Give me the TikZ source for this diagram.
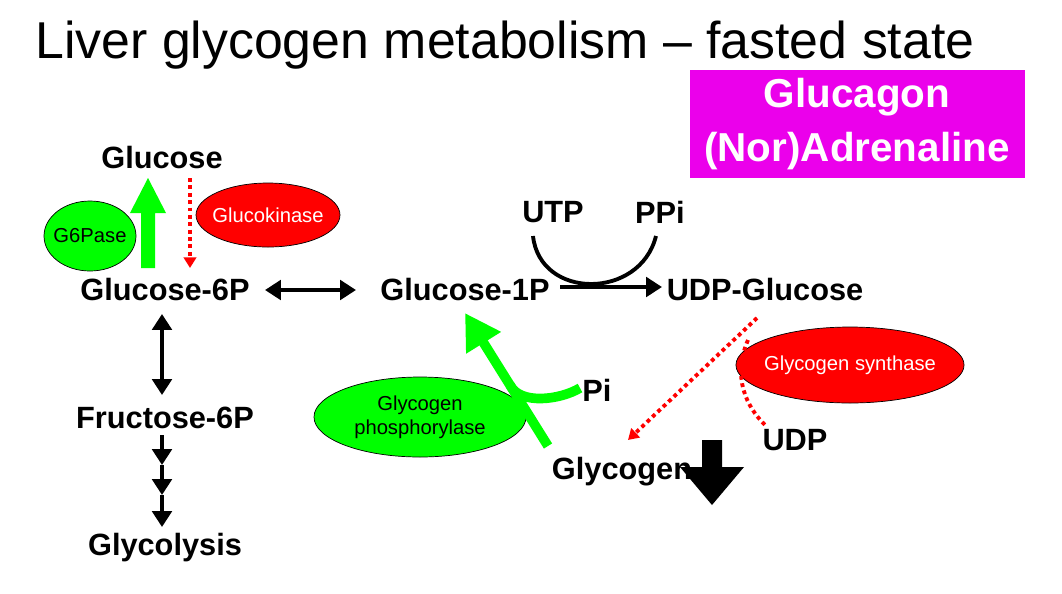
\documentclass[tikz,border=0pt]{standalone}
\usepackage{fontspec}
\setmainfont{Liberation Sans}
\usetikzlibrary{arrows.meta,shapes.geometric}
\definecolor{hmag}{RGB}{235,0,235}
\begin{document}
\begin{tikzpicture}[x=0.02cm,y=-0.02cm,
  lab/.style={font=\fontsize{17.5}{19}\selectfont\bfseries,inner sep=0pt},
  enz/.style={ellipse,draw=black,inner sep=-3pt,font=\fontsize{11.5}{13.5}\selectfont,align=center},
  blk/.style={line width=2.2pt,-{Triangle[length=9pt,width=11pt]}},
  dbl/.style={line width=2.2pt,{Triangle[length=9pt,width=11pt]}-{Triangle[length=9pt,width=11pt]}},
  reddot/.style={red,line width=2.2pt,dotted}]
\useasboundingbox (0,0) rectangle (1062,593);
\node[anchor=west,font=\fontsize{29.5}{32}\selectfont,inner sep=0pt] (title) at (35,45) {Liver glycogen metabolism – fasted state};
\node[fill=hmag,minimum width=335*0.02cm,minimum height=108*0.02cm,align=center,text=white,
  font=\fontsize{23}{31}\selectfont\bfseries] (hormone) at (857,124) {Glucagon\\(Nor)Adrenaline};
\node[lab] (glc) at (162,158) {Glucose};
\node[lab] (g6p) at (165,290) {Glucose-6P};
\node[lab] (g1p) at (465,290) {Glucose-1P};
\node[lab] (udpg) at (765,290) {UDP-Glucose};
\node[lab] (utp) at (553,212) {UTP};
\node[lab] (ppi) at (660,212) {PPi};
\node[lab] (f6p) at (165,418) {Fructose-6P};
\node[lab] (glyco) at (165,548) {Glycolysis};
\node[lab] (pi) at (597,390) {Pi};
\node[lab] (udp) at (795,440) {UDP};
\node[lab] (glycogen) at (622,472) {Glycogen};
\node[enz,fill=green,minimum width=92*0.02cm,minimum height=70*0.02cm] (g6pase) at (90,236) {G6Pase};
\node[enz,fill=red,text=white,minimum width=144*0.02cm,minimum height=64*0.02cm] (gk) at (268,215) {Glucokinase};
\node[enz,fill=red,text=white,minimum width=220*0.02cm,minimum height=76*0.02cm] (gs) at (850,365) {Glycogen synthase};
\node[enz,fill=green,minimum width=212*0.02cm,minimum height=80*0.02cm] (gp) at (420,417) {Glycogen\\phosphorylase};
% green up arrow G6P->Glucose
\fill[green] (141,268) -- (155,268) -- (155,213) -- (166,213) -- (148,178) -- (130,213) -- (141,213) -- cycle;
% glucokinase dotted
\draw[reddot,-{Triangle[length=6pt,width=7pt]}] (190,178) -- (190,268);
% G6P <-> G1P
\coordinate (a1) at (265,290);
\coordinate (a2) at (356,290);
\draw[dbl] (a1) -- (a2);
% G6P <-> F6P
\draw[dbl] (162,314) -- (162,395);
\coordinate (d1) at (162,465);
\coordinate (d2) at (162,495);
\draw[blk] (162,435) -- (d1);
\draw[blk] (d1) -- (d2);
\draw[blk] (d2) -- (162,527);
% G1P -> UDP-Glucose with UTP/PPi arc
\coordinate (s1) at (560,287);
\coordinate (s2) at (662,287);
\draw[blk] (s1) -- (s2);
\draw[line width=2.2pt] (533,236) .. controls (540,300) and (640,300) .. (656,236);
% glycogen phosphorylase green arrow
\draw[green,line width=5.5pt] (510,385) .. controls (520,405) and (560,400) .. (580,388);
\draw[green,line width=5.5pt,-{Triangle[length=20pt,width=22pt]}] (548,446) -- (465,313);
% glycogen synthase
\draw[reddot,-{Triangle[length=6pt,width=7pt]}] (757,318) -- (628,440);
\draw[reddot] (748,340) .. controls (735,370) and (740,400) .. (765,425);
% big black down arrow
\fill[black] (702,440) -- (722,440) -- (722,467) -- (744,467) -- (712,505) -- (680,467) -- (702,467) -- cycle;
\end{tikzpicture}
\end{document}
